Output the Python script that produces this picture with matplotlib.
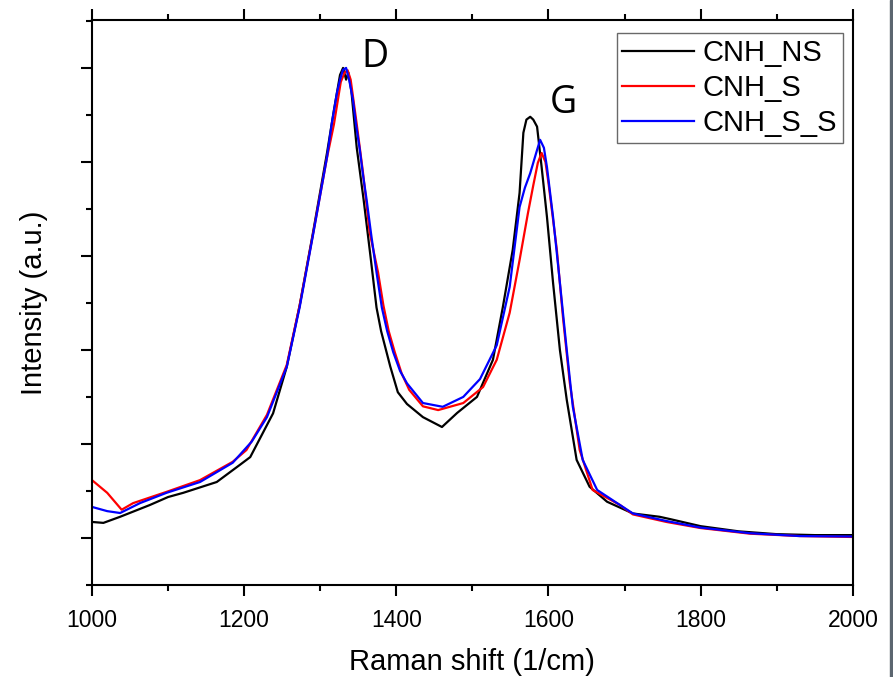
import matplotlib

matplotlib.use("Agg")
import matplotlib.pyplot as plt
from matplotlib.patches import Rectangle
from matplotlib.ticker import MultipleLocator

plt.rcParams["font.family"] = ["Liberation Sans", "DejaVu Sans"]

# Raman spectra, normalised to the D-band maximum
ns_shift = [1000, 1015, 1037, 1076, 1100, 1120, 1164, 1194, 1208, 1238, 1256,
            1273, 1290, 1309, 1318, 1326, 1330, 1334, 1337, 1341, 1348, 1357,
            1366, 1374, 1380, 1392, 1402, 1414, 1435, 1460, 1480, 1506, 1527,
            1540, 1553, 1562, 1567, 1571, 1576, 1580, 1585, 1591, 1598, 1606,
            1615, 1624, 1637, 1654, 1677, 1711, 1746, 1760, 1800, 1850, 1900,
            1950, 2000]
ns_int = [0.034, 0.032, 0.045, 0.070, 0.087, 0.096, 0.119, 0.155, 0.172, 0.265,
          0.364, 0.495, 0.645, 0.820, 0.910, 0.985, 1.000, 0.975, 0.990, 0.950,
          0.830, 0.720, 0.600, 0.490, 0.440, 0.365, 0.310, 0.285, 0.257, 0.236,
          0.266, 0.300, 0.379, 0.491, 0.613, 0.734, 0.862, 0.890, 0.896, 0.890,
          0.875, 0.789, 0.683, 0.543, 0.400, 0.294, 0.166, 0.109, 0.077, 0.052,
          0.045, 0.040, 0.025, 0.014, 0.008, 0.006, 0.006]

s_shift = [1000, 1020, 1039, 1054, 1098, 1142, 1185, 1203, 1230, 1256, 1273,
           1290, 1309, 1318, 1327, 1332, 1336, 1340, 1348, 1356, 1365, 1376,
           1383, 1390, 1398, 1407, 1417, 1435, 1455, 1488, 1514, 1532, 1549,
           1562, 1573, 1580, 1586, 1591, 1596, 1600, 1611, 1619, 1628, 1641,
           1658, 1694, 1711, 1755, 1800, 1865, 1930, 2000]
s_int = [0.123, 0.096, 0.060, 0.074, 0.098, 0.123, 0.162, 0.187, 0.262, 0.368,
         0.495, 0.642, 0.810, 0.880, 0.970, 0.990, 0.995, 0.975, 0.880, 0.780,
         0.650, 0.565, 0.495, 0.440, 0.395, 0.350, 0.315, 0.280, 0.272, 0.287,
         0.321, 0.379, 0.479, 0.591, 0.691, 0.750, 0.798, 0.819, 0.800, 0.755,
         0.613, 0.470, 0.330, 0.187, 0.102, 0.070, 0.050, 0.034, 0.021, 0.009,
         0.004, 0.002]

ss_shift = [1000, 1020, 1037, 1063, 1098, 1142, 1185, 1210, 1230, 1256, 1273,
            1290, 1309, 1315, 1322, 1326, 1330, 1334, 1338, 1343, 1347, 1352,
            1356, 1361, 1367, 1374, 1381, 1388, 1396, 1405, 1414, 1435, 1461,
            1488, 1510, 1532, 1549, 1562, 1569, 1576, 1584, 1589, 1594, 1598,
            1606, 1615, 1624, 1632, 1645, 1664, 1694, 1711, 1755, 1800, 1865,
            1930, 2000]
ss_int = [0.066, 0.057, 0.053, 0.074, 0.096, 0.119, 0.160, 0.205, 0.257, 0.364,
          0.491, 0.640, 0.811, 0.880, 0.947, 0.975, 0.996, 1.000, 0.975, 0.932,
          0.880, 0.826, 0.775, 0.719, 0.645, 0.565, 0.490, 0.440, 0.395, 0.355,
          0.329, 0.287, 0.279, 0.300, 0.338, 0.410, 0.534, 0.704, 0.745, 0.776,
          0.820, 0.847, 0.830, 0.789, 0.683, 0.543, 0.400, 0.279, 0.166, 0.102,
          0.070, 0.052, 0.036, 0.022, 0.010, 0.004, 0.003]

fig = plt.figure(figsize=(8.93, 6.77), dpi=100)
ax = fig.add_axes([0.103, 0.136, 0.852, 0.8345])

ax.plot(ns_shift, ns_int, color="black", lw=1.6, label="CNH_NS")
ax.plot(s_shift, s_int, color="#ff0000", lw=1.6, label="CNH_S")
ax.plot(ss_shift, ss_int, color="#0000ff", lw=1.6, label="CNH_S_S")

ax.set_xlim(1000, 2000)
ax.set_ylim(-0.1, 1.102)
ax.xaxis.set_major_locator(MultipleLocator(200))
ax.xaxis.set_minor_locator(MultipleLocator(100))
ax.yaxis.set_major_locator(MultipleLocator(0.2))
ax.yaxis.set_minor_locator(MultipleLocator(0.1))
ax.tick_params(axis="x", which="both", direction="out", top=True,
               labelsize=16.5, width=1.5, pad=9)
ax.tick_params(axis="y", which="both", direction="out", right=False,
               labelleft=False, width=1.5)
ax.tick_params(which="major", length=8)
ax.tick_params(which="minor", length=4.5)
for sp in ax.spines.values():
    sp.set_linewidth(1.5)

ax.set_xlabel("Raman shift (1/cm)", fontsize=21, labelpad=12)
ax.set_ylabel("Intensity (a.u.)", fontsize=21, labelpad=24)

ax.text(1372, 1.023, "D", fontsize=27, family=["Open Sans", "DejaVu Sans"],
        ha="center", va="center")
ax.text(1619, 0.925, "G", fontsize=27, family=["Open Sans", "DejaVu Sans"],
        ha="center", va="center")

leg = ax.legend(loc="upper right", bbox_to_anchor=(0.987, 0.977),
                borderaxespad=0, fontsize=21, frameon=True, fancybox=False,
                edgecolor="#444444", handlelength=2.45, handletextpad=0.3,
                labelspacing=0.25, borderpad=0.2)
leg.get_frame().set_linewidth(1.0)

# dark strip at the right edge of the screenshot
fig.patches.append(Rectangle((890 / 893, 0), 3 / 893, 1, color="#5c6670",
                             transform=fig.transFigure, zorder=-1))

fig.savefig("out.png", dpi=100)
